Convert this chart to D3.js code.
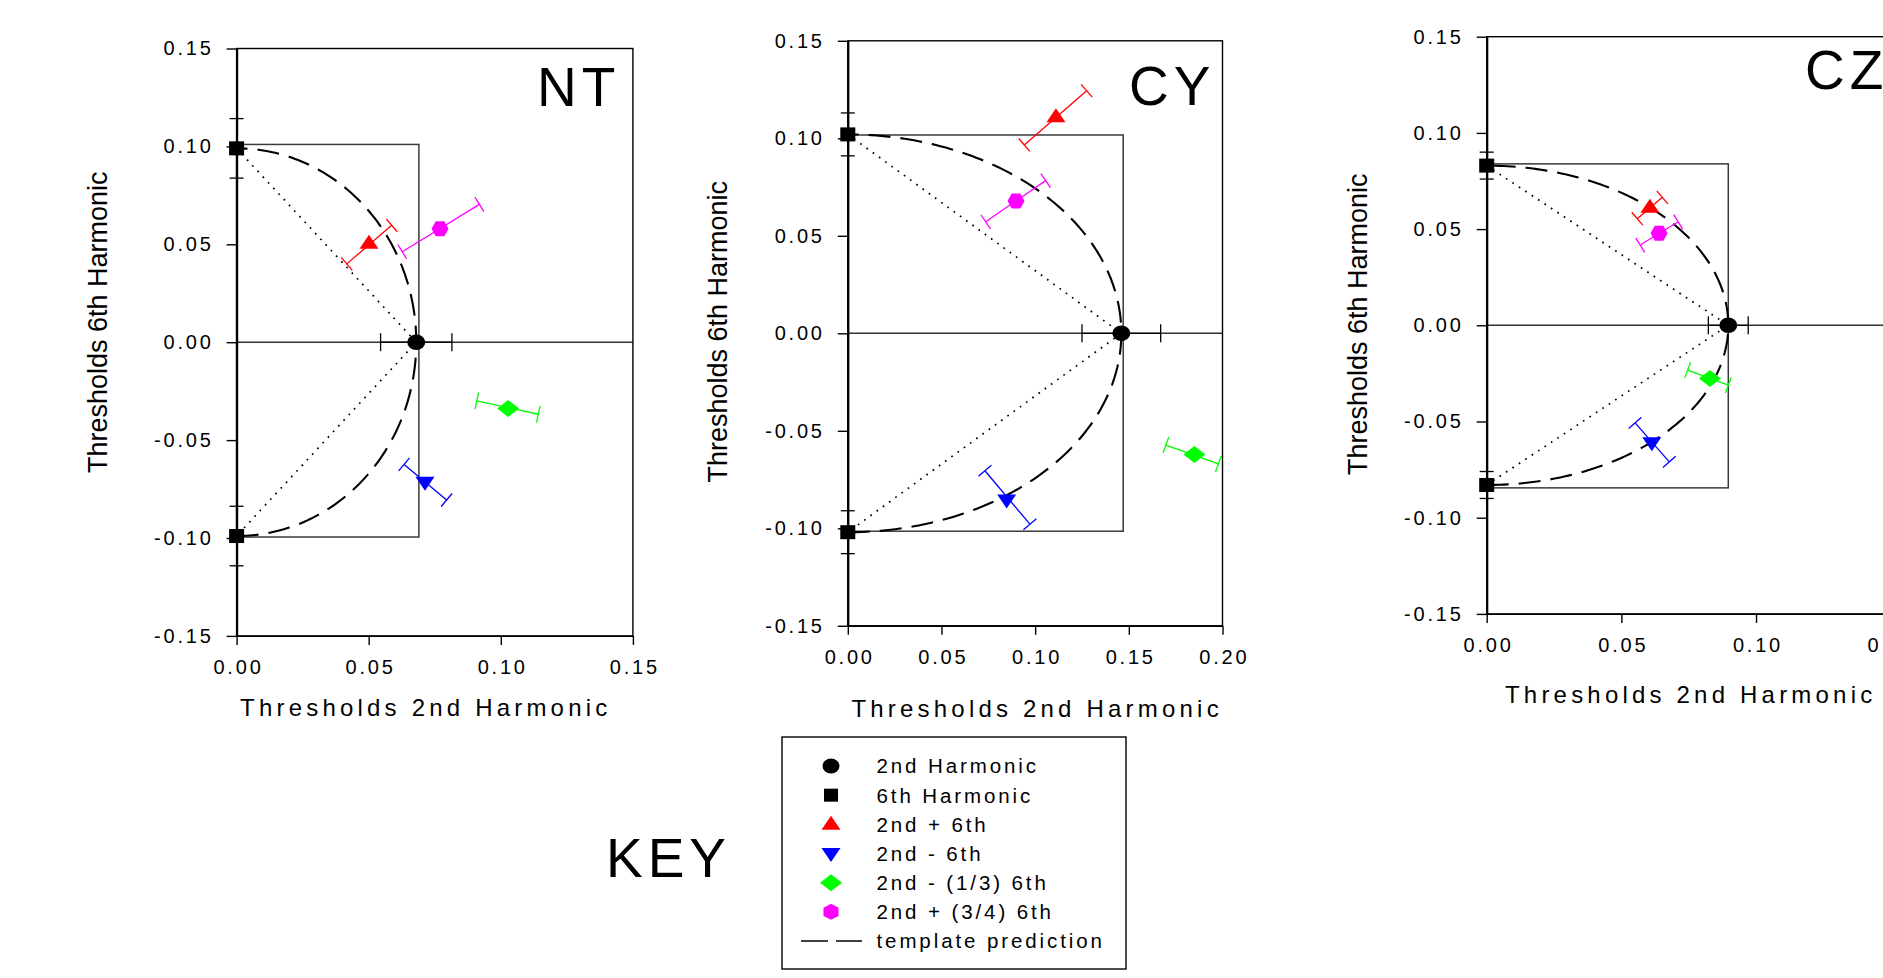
<!DOCTYPE html>
<html>
<head>
<meta charset="utf-8">
<script src="https://cdn.jsdelivr.net/npm/d3@7"></script>
<style>
  html, body { margin: 0; padding: 0; background: #fff; overflow: hidden; }
  svg text { font-family: "Liberation Sans", Arial, sans-serif; fill: #000; }
</style>
</head>
<body>
<svg id="chart" width="1883" height="978"></svg>
<script>
// panel data
const panelNames = ["NT", "CY", "CZ"];
const xTickValues = [[0, 0.05, 0.10, 0.15], [0, 0.05, 0.10, 0.15, 0.20], [0, 0.05, 0.10, 0.15]];
const yTickValues = [-0.15, -0.10, -0.05, 0, 0.05, 0.10, 0.15];
const xMax = [0.15, 0.20, 0.15];
const yRange = [-0.15, 0.15];

// single harmonic thresholds (circle = 2nd, squares = 6th)
const secondThr = [0.068, 0.146, 0.0897];
const secondErr = [0.0135, 0.021, 0.0074];
const sixthThr = [0.099, 0.102, 0.083];
const sixthErr = [0.0152, 0.011, 0.007];

// rectangle drawn round the prediction
const boxRight = [0.069, 0.147, 0.0897];
const boxTop = [0.101, 0.1017, 0.0839];
const boxBottom = [-0.0995, -0.1015, -0.0845];

// compound stimuli, one row per panel: [x, y, errX1, errY1, errX2, errY2]
const plusSixth = [
  [0.0501, 0.0505, 0.0417, 0.0400, 0.0587, 0.0597],
  [0.1111, 0.1111, 0.0942, 0.0966, 0.1275, 0.1244],
  [0.0606, 0.0613, 0.0559, 0.0554, 0.0652, 0.0665]
];
const minusSixth = [
  [0.0713, -0.0715, 0.0634, -0.0624, 0.0795, -0.0806],
  [0.0848, -0.0855, 0.0732, -0.0705, 0.0972, -0.0979],
  [0.0613, -0.0611, 0.0551, -0.0507, 0.0678, -0.0710]
];
const minusThirdSixth = [
  [0.1028, -0.0338, 0.0909, -0.0300, 0.1142, -0.0368],
  [0.1850, -0.0621, 0.1698, -0.0573, 0.1978, -0.0670],
  [0.0829, -0.0276, 0.0746, -0.0233, 0.0897, -0.0311]
];
const plusThreeQSixth = [
  [0.0770, 0.0579, 0.0627, 0.0462, 0.0919, 0.0704],
  [0.0898, 0.0678, 0.0736, 0.0572, 0.1056, 0.0783],
  [0.0640, 0.0478, 0.0570, 0.0417, 0.0711, 0.0538]
];

const legendLabels = ["2nd Harmonic", "6th Harmonic", "2nd + 6th", "2nd - 6th",
  "2nd - (1/3) 6th", "2nd + (3/4) 6th", "template prediction"];

// layout of the three panels (pixels)
const frames = [
  {left: 236.6, right: 632.9, top: 48.5, bottom: 635.9, titleX: 537, titleY: 105.5, yTitleDx: -139.6, yTitleDy: -20, xTitleDx: -11, xTitleDy: 71},
  {left: 847.8, right: 1222.5, top: 40.8, bottom: 625.8, titleX: 1129, titleY: 105, yTitleDx: -130.8, yTitleDy: -1.5, xTitleDx: 0, xTitleDy: 83},
  {left: 1486.7, right: 1890.7, top: 36.7, bottom: 613.9, titleX: 1805, titleY: 88.5, yTitleDx: -129.7, yTitleDy: -1, xTitleDx: 0, xTitleDy: 80}
];

// marker shapes
const shapes = {
  triUp: "M0,-8.5L9.5,5.5L-9.5,5.5Z",
  triDown: "M0,8.5L9.5,-5.5L-9.5,-5.5Z",
  diamond: "M0,-8.5L11,0L0,8.5L-11,0Z",
  hexagon: "M-8.5,0L-4.3,-7.5L4.3,-7.5L8.5,0L4.3,7.5L-4.3,7.5Z",
  hexLegend: "M0,-8L7.5,-4.2L7.5,4.2L0,8L-7.5,4.2L-7.5,-4.2Z"
};

const compounds = [
  {rows: plusSixth, color: "#ff0000", shape: shapes.triUp},
  {rows: minusSixth, color: "#0000ff", shape: shapes.triDown},
  {rows: minusThirdSixth, color: "#00ff00", shape: shapes.diamond},
  {rows: plusThreeQSixth, color: "#ff00ff", shape: shapes.hexagon}
];

const fmt = v => v.toFixed(2);
const svg = d3.select("#chart");

// error bar with short caps perpendicular to it (in pixels)
function drawErrorBar(g, x1, y1, x2, y2, color, half) {
  g.append("line").attr("x1", x1).attr("y1", y1).attr("x2", x2).attr("y2", y2)
    .attr("stroke", color).attr("stroke-width", 1.3);
  var len = Math.hypot(x2 - x1, y2 - y1);
  var nx = -(y2 - y1) / len, ny = (x2 - x1) / len;
  [[x1, y1], [x2, y2]].forEach(p => {
    g.append("line")
      .attr("x1", p[0] - nx * half).attr("y1", p[1] - ny * half)
      .attr("x2", p[0] + nx * half).attr("y2", p[1] + ny * half)
      .attr("stroke", color).attr("stroke-width", 1.3);
  });
}

panelNames.forEach((name, i) => {
  var f = frames[i];
  var x = d3.scaleLinear().domain([0, xMax[i]]).range([f.left, f.right]);
  var y = d3.scaleLinear().domain(yRange).range([f.bottom, f.top]);
  var g = svg.append("g").attr("class", "panel");

  // rectangle
  g.append("rect")
    .attr("x", x(0)).attr("y", y(boxTop[i]))
    .attr("width", x(boxRight[i]) - x(0))
    .attr("height", y(boxBottom[i]) - y(boxTop[i]))
    .attr("fill", "none").attr("stroke", "#3a3a3a").attr("stroke-width", 1.5);

  // zero line
  g.append("line").attr("x1", x(0)).attr("x2", f.right).attr("y1", y(0)).attr("y2", y(0))
    .attr("stroke", "#333").attr("stroke-width", 1.4);

  // dotted lines from the 6th harmonic thresholds to the 2nd
  var dotted = d3.line().x(d => x(d[0])).y(d => y(d[1]));
  g.append("path")
    .attr("d", dotted([[0, sixthThr[i]], [secondThr[i], 0], [0, -sixthThr[i]]]))
    .attr("fill", "none").attr("stroke", "#000").attr("stroke-width", 1.7)
    .attr("stroke-dasharray", "1.7,6");

  // template prediction: ellipse through the two thresholds
  var tt = d3.range(-90, 90.5, 1).map(a => a * Math.PI / 180);
  var ell = d3.line().x(t => x(secondThr[i] * Math.cos(t))).y(t => y(sixthThr[i] * Math.sin(t)));
  g.append("path").attr("d", ell(tt))
    .attr("fill", "none").attr("stroke", "#000").attr("stroke-width", 2.1)
    .attr("stroke-dasharray", "22,10");

  // error bars of single harmonics
  drawErrorBar(g, x(0), y(sixthThr[i] + sixthErr[i]), x(0), y(sixthThr[i] - sixthErr[i]), "#000", 7);
  drawErrorBar(g, x(0), y(-sixthThr[i] + sixthErr[i]), x(0), y(-sixthThr[i] - sixthErr[i]), "#000", 7);
  drawErrorBar(g, x(secondThr[i] - secondErr[i]), y(0), x(secondThr[i] + secondErr[i]), y(0), "#000", 9);

  // compound stimuli
  compounds.forEach(c => {
    var r = c.rows[i];
    drawErrorBar(g, x(r[2]), y(r[3]), x(r[4]), y(r[5]), c.color, 8.5);
    g.append("path").attr("d", c.shape)
      .attr("transform", "translate(" + x(r[0]) + "," + y(r[1]) + ")")
      .attr("fill", c.color);
  });

  // single harmonic markers
  [sixthThr[i], -sixthThr[i]].forEach(v => {
    g.append("rect").attr("x", x(0) - 7.5).attr("y", y(v) - 7).attr("width", 15).attr("height", 14)
      .attr("fill", "#000");
  });
  g.append("ellipse").attr("cx", x(secondThr[i])).attr("cy", y(0)).attr("rx", 9).attr("ry", 7.8)
    .attr("fill", "#000");

  // frame
  g.append("rect").attr("x", f.left).attr("y", f.top)
    .attr("width", f.right - f.left).attr("height", f.bottom - f.top)
    .attr("fill", "none").attr("stroke", "#000").attr("stroke-width", 1.4);

  // axes
  var ya = g.append("g").attr("transform", "translate(" + f.left + ",0)")
    .call(d3.axisLeft(y).tickValues(yTickValues).tickFormat(fmt).tickSize(10).tickSizeOuter(0).tickPadding(13));
  ya.select(".domain").attr("stroke-width", 2.2);
  ya.selectAll(".tick line").attr("stroke-width", 1.4);
  ya.selectAll("text").style("font-size", "20px").style("letter-spacing", "2.8px")
    .style("font-family", "'Liberation Sans', Arial, sans-serif");

  var xa = g.append("g").attr("transform", "translate(0," + f.bottom + ")")
    .call(d3.axisBottom(x).tickValues(xTickValues[i]).tickFormat(fmt).tickSize(9).tickSizeOuter(0).tickPadding(15));
  xa.select(".domain").attr("stroke-width", 1.4);
  xa.selectAll(".tick line").attr("stroke-width", 1.4);
  xa.selectAll("text").style("font-size", "20px").style("letter-spacing", "2.8px")
    .attr("dx", 1.4)
    .style("font-family", "'Liberation Sans', Arial, sans-serif");

  // titles
  g.append("text").attr("x", (f.left + f.right) / 2 + f.xTitleDx + 2).attr("y", f.bottom + f.xTitleDy)
    .attr("dy", "0.36em").attr("text-anchor", "middle")
    .style("font-size", "24px").style("letter-spacing", "4.2px")
    .text("Thresholds 2nd Harmonic");

  var cy = (f.top + f.bottom) / 2 + f.yTitleDy;
  g.append("text")
    .attr("transform", "translate(" + (f.left + f.yTitleDx) + "," + cy + ") rotate(-90)")
    .attr("dy", "0.36em").attr("text-anchor", "middle")
    .style("font-size", "27px")
    .text("Thresholds 6th Harmonic");

  g.append("text").attr("x", f.titleX).attr("y", f.titleY)
    .style("font-size", "55px").style("letter-spacing", "5px")
    .text(name);
});

// key
svg.append("text").attr("x", 606).attr("y", 876.5)
  .style("font-size", "55px").style("letter-spacing", "5px").text("KEY");

var leg = svg.append("g");
leg.append("rect").attr("x", 782).attr("y", 737).attr("width", 344).attr("height", 232)
  .attr("fill", "#fff").attr("stroke", "#000").attr("stroke-width", 1.4);

var rowY = d3.scalePoint().domain(legendLabels).range([766, 941]);
var symX = 831;
var legendMarks = [
  {fill: "#000", draw: s => s.append("ellipse").attr("rx", 8.5).attr("ry", 7.5)},
  {fill: "#000", draw: s => s.append("rect").attr("x", -7).attr("y", -6.5).attr("width", 14).attr("height", 13)},
  {fill: "#ff0000", draw: s => s.append("path").attr("d", shapes.triUp)},
  {fill: "#0000ff", draw: s => s.append("path").attr("d", shapes.triDown)},
  {fill: "#00ff00", draw: s => s.append("path").attr("d", shapes.diamond)},
  {fill: "#ff00ff", draw: s => s.append("path").attr("d", shapes.hexLegend)}
];
legendLabels.forEach((lab, k) => {
  var cyy = rowY(lab);
  if (k < legendMarks.length) {
    var s = leg.append("g").attr("transform", "translate(" + symX + "," + cyy + ")");
    legendMarks[k].draw(s).attr("fill", legendMarks[k].fill);
  } else {
    leg.append("line").attr("x1", 801).attr("x2", 862).attr("y1", cyy).attr("y2", cyy)
      .attr("stroke", "#000").attr("stroke-width", 1.6).attr("stroke-dasharray", "27,8");
  }
  leg.append("text").attr("x", 876.5).attr("y", cyy).attr("dy", "0.36em")
    .style("font-size", "20.5px").style("letter-spacing", "2.9px").text(lab);
});
</script>
</body>
</html>
